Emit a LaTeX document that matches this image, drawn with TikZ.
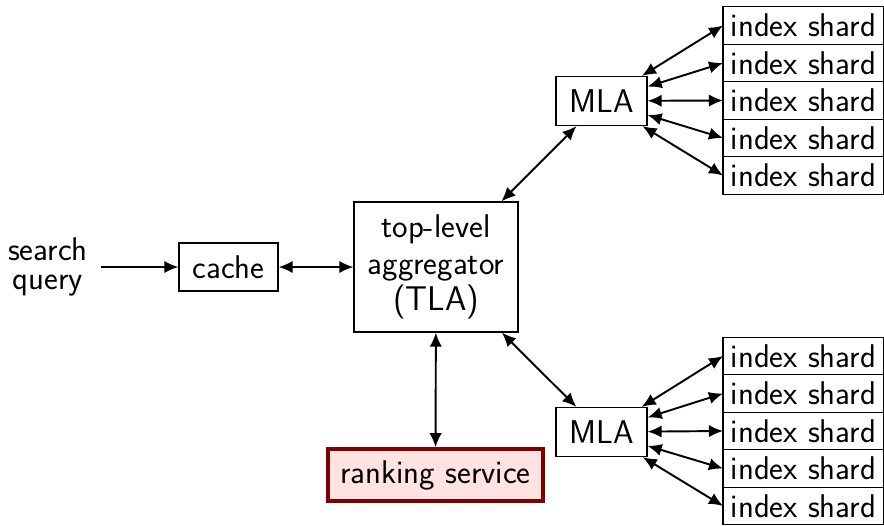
\documentclass[tikz,border=0pt]{standalone}
\usetikzlibrary{positioning,arrows.meta}
\definecolor{rankred}{RGB}{128,0,0}
\definecolor{rankpink}{RGB}{255,226,226}
\tikzstyle{plainbox}=[draw, line width=0.7pt, inner sep=0pt]
\tikzstyle{shard}=[plainbox, minimum width=3.22cm, minimum height=0.75cm,
                   outer sep=0pt]
\tikzstyle{mla}=[plainbox, minimum width=1.82cm, minimum height=0.98cm]
\tikzstyle{rankbox}=[draw=rankred, fill=rankpink, line width=2pt,
                     inner sep=0pt, minimum width=4.3cm, minimum height=1.04cm]
\tikzstyle{link}=[{Latex[length=8pt,width=7pt]}-{Latex[length=8pt,width=7pt]},
                  line width=1.1pt]

\begin{document}
\begin{tikzpicture}[x=0.02cm, y=-0.02cm,
                    font=\sffamily\fontsize{18.7}{21}\selectfont]
  \useasboundingbox (0,0) rectangle (884,525);
  % Front end
  \node[align=center, inner sep=0.25cm,
        font=\sffamily\fontsize{18.7}{16.6}\selectfont] (query) at (48,267)
       {search\\query};
  \node[plainbox, minimum width=1.98cm, minimum height=0.96cm] (cache)
       at (228.5,267) {cache};
  \node[plainbox, align=center, minimum width=3.28cm, minimum height=2.6cm,
        font=\sffamily\fontsize{18.7}{20.7}\selectfont] (tla) at (436,267)
       {top-level\\aggregator\\{\fontsize{19.5}{20.7}\selectfont(TLA)}};
  \node[rankbox] (rank) at (435.5,475) {ranking service};
  \draw[-{Latex[length=8pt,width=7pt]}, line width=1.1pt] (query) -- (cache);
  \draw[link] (cache) -- (tla);
  \draw[link] (tla) -- (rank);
  %
  % Mid-level aggregators
  \node[mla] (mt) at (601.5,101) {MLA};
  \node[mla] (mb) at (601.5,432) {MLA};
  \draw[link] (tla) -- (mt);
  \draw[link] (tla) -- (mb);
  %
  % Index shards
  \node[shard] (t1) at (803.5,25.5) {index shard};
  \node[shard] (b1) at (803.5,356) {index shard};
  \foreach \i [count=\j from 2] in {1,...,4} {
    \node[shard, below=0pt of t\i] (t\j) {index shard};
    \node[shard, below=0pt of b\i] (b\j) {index shard};
  }
  \foreach \i in {1,...,5} {
    \draw[link] (mt) -- (t\i.west);
    \draw[link] (mb) -- (b\i.west);
  }
\end{tikzpicture}
\end{document}
